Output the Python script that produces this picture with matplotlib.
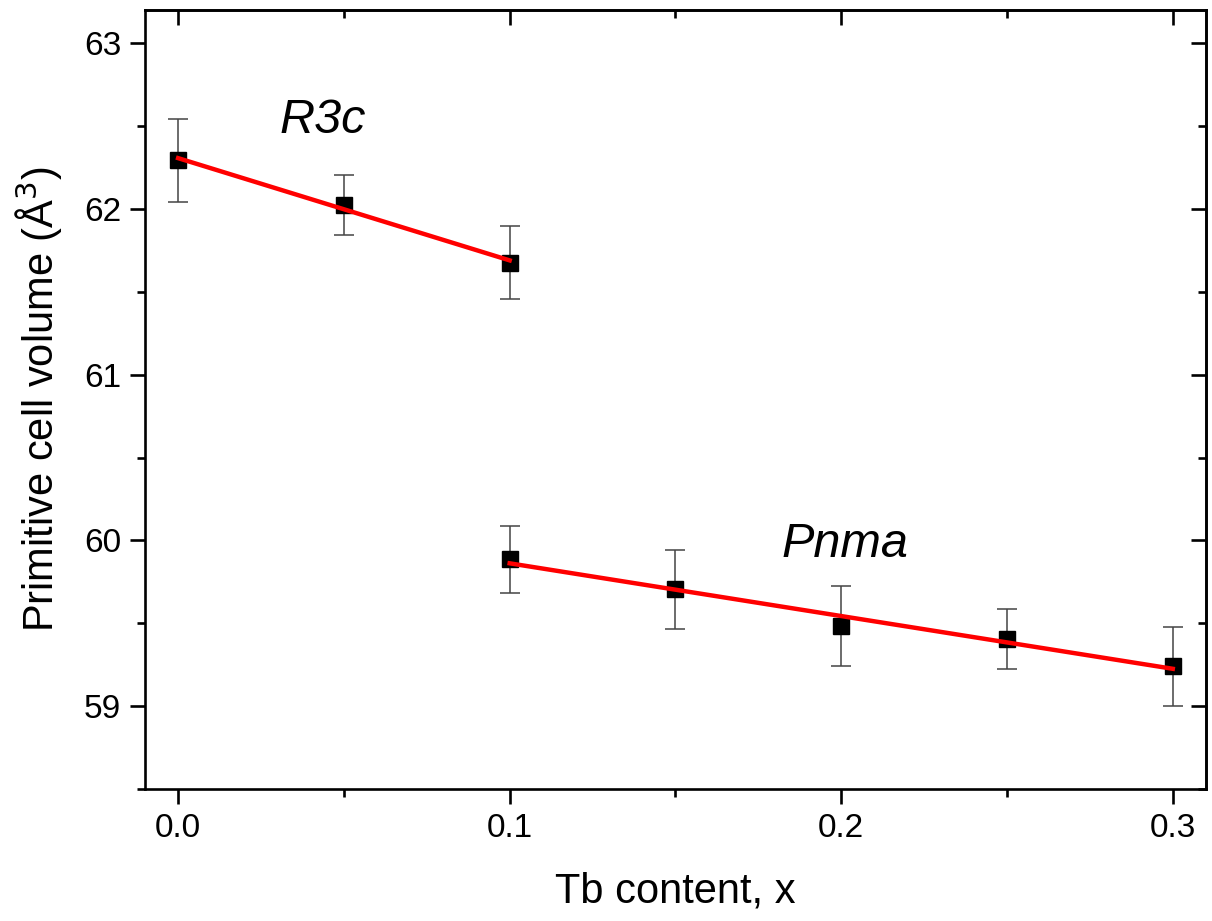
import matplotlib.pyplot as plt
import numpy as np

plt.rcParams['font.family'] = ['Liberation Sans', 'DejaVu Sans']

# R3c phase
x_r3c = np.array([0.0, 0.05, 0.10])
v_r3c = np.array([62.293, 62.025, 61.676])
e_r3c = np.array([0.25, 0.18, 0.22])

# Pnma phase
x_pnma = np.array([0.10, 0.15, 0.20, 0.25, 0.30])
v_pnma = np.array([59.885, 59.705, 59.484, 59.404, 59.240])
e_pnma = np.array([0.20, 0.24, 0.24, 0.18, 0.24])

xmajor = [0.0, 0.1, 0.2, 0.3]
xminor = [0.05, 0.15, 0.25]
ymajor = [59, 60, 61, 62, 63]
yminor = [58.5, 59.5, 60.5, 61.5, 62.5]


def main():
    fig = plt.figure(figsize=(12.12, 9.21), dpi=100)
    ax = fig.add_axes([0.1196, 0.1433, 0.8754, 0.8458])

    for x, v, e in [(x_r3c, v_r3c, e_r3c), (x_pnma, v_pnma, e_pnma)]:
        k, b = np.polyfit(x, v, 1)
        xs = np.array([x.min(), x.max()])
        ax.errorbar(x, v, yerr=e, fmt='s', color='black', ms=12,
                    ecolor='#444444', elinewidth=1.1, capsize=7, capthick=1.1, zorder=2)
        ax.plot(xs, k * xs + b, color='#ff0000', lw=3.2, zorder=3)

    ax.text(0.0307, 62.456, 'R3c', fontsize=35, style='italic')
    ax.text(0.182, 59.90, 'Pnma', fontsize=35, style='italic')

    ax.set_xlim(-0.01, 0.31)
    ax.set_ylim(58.5, 63.2)
    ax.set_xticks(xmajor)
    ax.set_xticklabels(['0.0', '0.1', '0.2', '0.3'])
    ax.set_xticks(xminor, minor=True)
    ax.set_yticks(ymajor)
    ax.set_yticks(yminor, minor=True)

    ax.tick_params(which='both', direction='out', width=1.9, labelsize=24, pad=6)
    ax.tick_params(which='major', length=11)
    ax.tick_params(which='minor', length=6)

    # mirrored inward ticks on top and right
    top = ax.secondary_xaxis('top')
    top.set_xticks(xmajor)
    top.set_xticks(xminor, minor=True)
    right = ax.secondary_yaxis('right')
    right.set_yticks(ymajor)
    right.set_yticks(yminor, minor=True)
    for sec in (top, right):
        sec.tick_params(which='both', direction='in', width=1.9,
                        labeltop=False, labelright=False)
        sec.tick_params(which='major', length=11)
        sec.tick_params(which='minor', length=6)
        for s in sec.spines.values():
            s.set_linewidth(1.9)

    for s in ax.spines.values():
        s.set_linewidth(1.9)

    ax.set_xlabel('Tb content, x', fontsize=30, labelpad=20)
    ax.set_ylabel('Primitive cell volume (Å$^3$)', fontsize=30, labelpad=14)

    fig.savefig('out.png', dpi=100)
    plt.close(fig)


if __name__ == '__main__':
    main()
